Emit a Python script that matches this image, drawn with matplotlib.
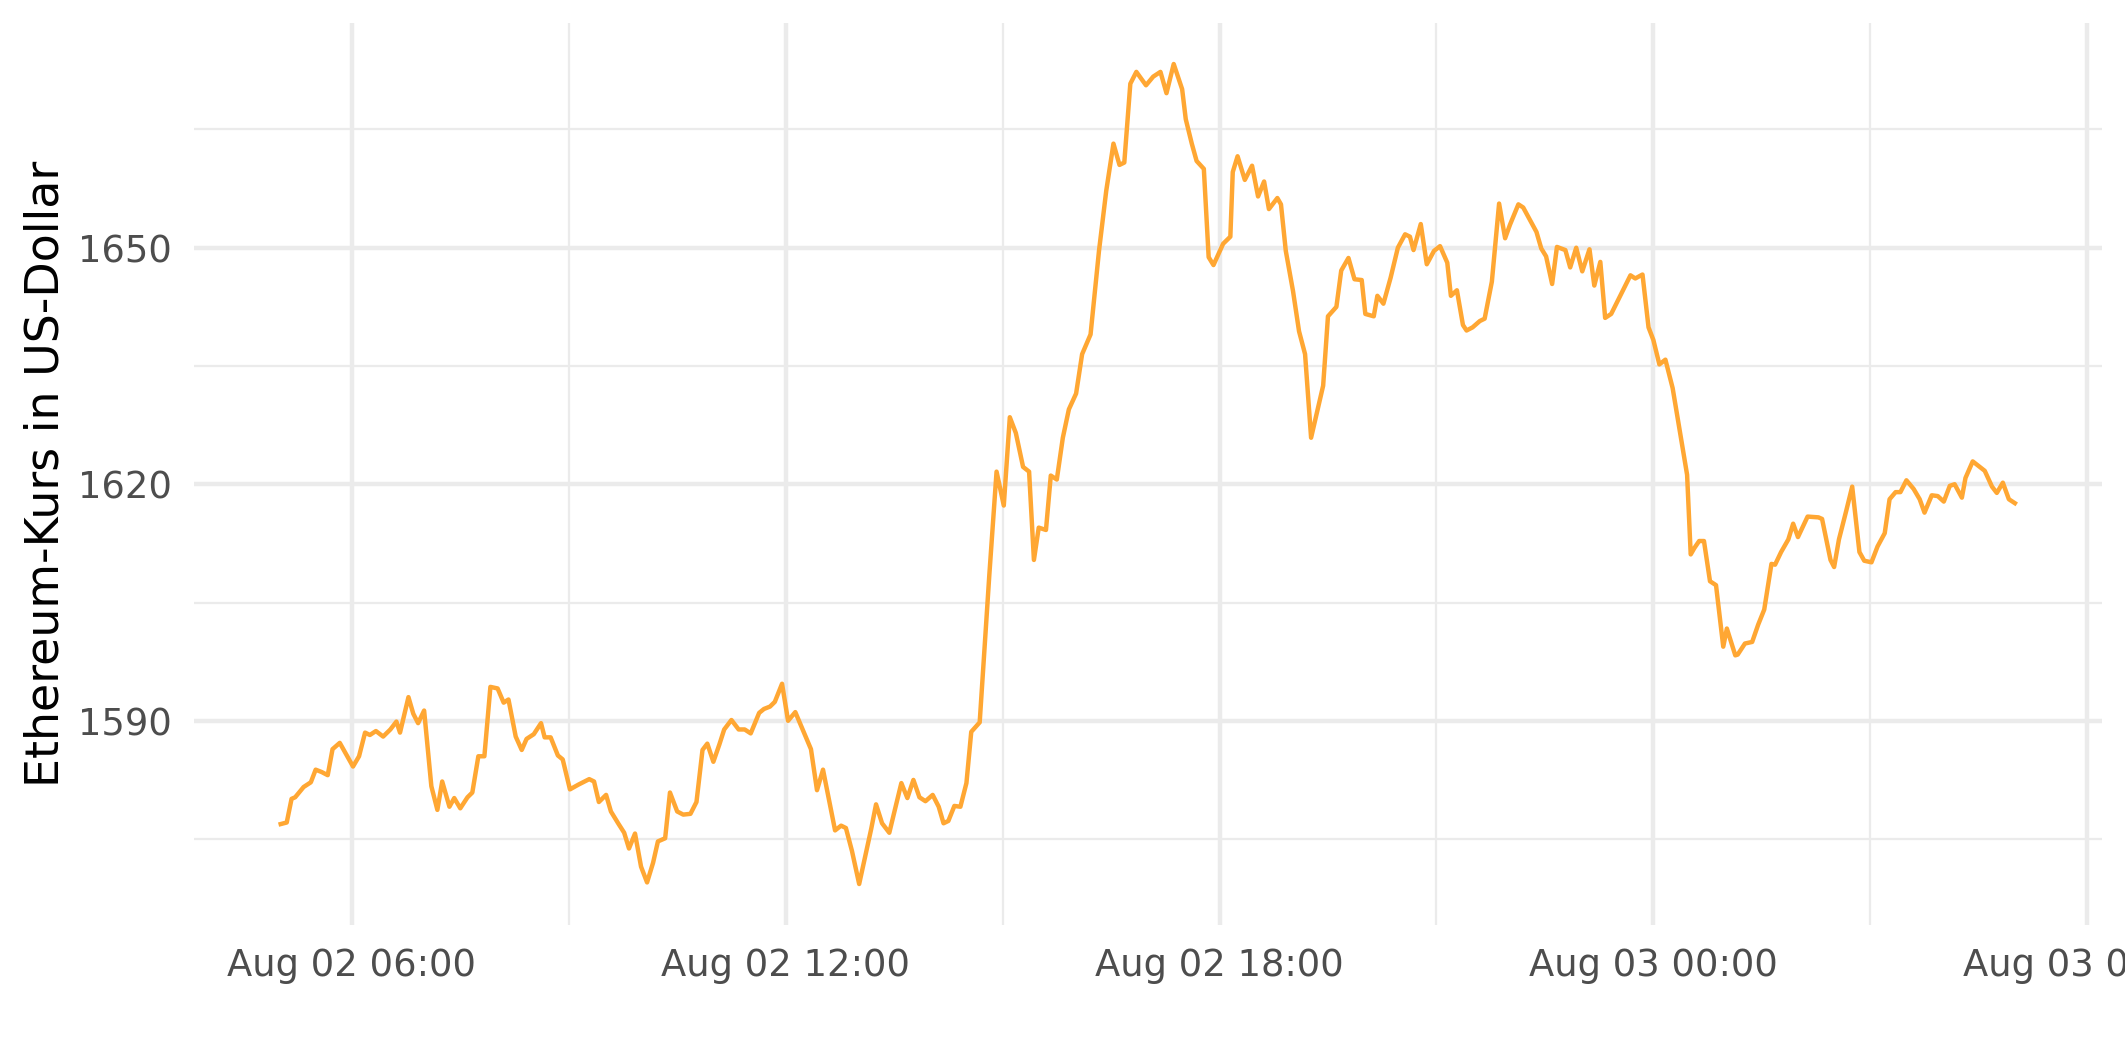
import numpy as np
import pandas as pd
import matplotlib
matplotlib.use("Agg")
import matplotlib.pyplot as plt
import matplotlib.dates as mdates
from matplotlib.ticker import MultipleLocator

# minutes after 2022-08-02 00:00 and the ETH price
minutes = [
    301, 306, 310, 313, 320, 326, 330, 335, 340, 344, 350, 361, 366, 371, 375,
    380, 386, 392, 397, 400, 407, 411, 415, 420, 426, 431, 435, 441, 445, 450,
    456, 460, 465, 470, 475, 481, 486, 490, 496, 501, 505, 511, 517, 520, 525,
    531, 535, 541, 548, 557, 561, 565, 571, 575, 581, 586, 590, 595, 600, 605,
    610, 614, 620, 624, 630, 635, 641, 646, 651, 655, 660, 665, 669, 675, 681,
    686, 691, 698, 702, 707, 711, 717, 722, 728, 741, 746, 751, 761, 766, 770,
    775, 781, 787, 791, 795, 800, 806, 816, 821, 826, 831, 836, 842, 847, 851,
    855, 860, 865, 870, 874, 881, 889, 895, 901, 906, 911, 917, 922, 926, 930,
    936, 940, 945, 950, 955, 961, 966, 973, 980, 986, 992, 997, 1001, 1006, 1011,
    1019, 1025, 1031, 1036, 1042, 1049, 1052, 1057, 1061, 1067, 1071, 1075, 1083,
    1089, 1091, 1095, 1101, 1107, 1112, 1117, 1121, 1128, 1131, 1135, 1141, 1146,
    1151, 1156, 1166, 1170, 1177, 1181, 1187, 1192, 1198, 1201, 1208, 1211, 1216,
    1222, 1228, 1234, 1238, 1241, 1247, 1252, 1258, 1263, 1269, 1272, 1277, 1282,
    1285, 1290, 1296, 1300, 1306, 1312, 1317, 1321, 1328, 1332, 1337, 1343, 1347,
    1351, 1356, 1360, 1367, 1371, 1376, 1381, 1387, 1391, 1396, 1400, 1405, 1421,
    1425, 1431, 1436, 1440, 1445, 1450, 1456, 1461, 1468, 1471, 1474, 1478, 1482,
    1487, 1492, 1498, 1501, 1508, 1510, 1516, 1522, 1527, 1532, 1538, 1541, 1546,
    1552, 1556, 1560, 1568, 1577, 1580, 1587, 1590, 1594, 1600, 1605, 1611, 1615,
    1621, 1626, 1632, 1636, 1641, 1645, 1650, 1656, 1661, 1665, 1671, 1676, 1681,
    1686, 1690, 1696, 1699, 1705, 1710, 1715, 1721, 1725, 1730, 1735, 1740,
]
prices = [
    1576.9, 1577.1, 1580.1, 1580.3, 1581.6, 1582.2, 1583.8, 1583.5, 1583.1, 1586.4,
    1587.2, 1584.2, 1585.5, 1588.5, 1588.2, 1588.7, 1588.0, 1588.9, 1589.9, 1588.5,
    1593.0, 1590.9, 1589.7, 1591.3, 1581.7, 1578.7, 1582.3, 1579.1, 1580.2, 1578.9,
    1580.3, 1580.9, 1585.5, 1585.5, 1594.3, 1594.1, 1592.3, 1592.7, 1588.0, 1586.3,
    1587.7, 1588.3, 1589.7, 1587.9, 1587.9, 1585.6, 1585.1, 1581.3, 1581.9, 1582.6,
    1582.3, 1579.7, 1580.6, 1578.5, 1577.0, 1575.8, 1573.8, 1575.7, 1571.5, 1569.5,
    1572.0, 1574.7, 1575.1, 1580.9, 1578.5, 1578.1, 1578.2, 1579.7, 1586.3, 1587.1,
    1584.8, 1587.0, 1588.9, 1590.1, 1588.9, 1588.9, 1588.4, 1591.0, 1591.5, 1591.8,
    1592.4, 1594.7, 1590.0, 1591.1, 1586.4, 1581.2, 1583.8, 1576.1, 1576.7, 1576.4,
    1573.5, 1569.3, 1573.5, 1576.3, 1579.4, 1577.0, 1575.8, 1582.1, 1580.2, 1582.5,
    1580.3, 1579.8, 1580.6, 1579.1, 1577.0, 1577.3, 1579.2, 1579.1, 1582.1, 1588.6,
    1589.8, 1608.5, 1621.6, 1617.3, 1628.5, 1626.5, 1622.2, 1621.6, 1610.4, 1614.5,
    1614.2, 1621.1, 1620.6, 1625.9, 1629.5, 1631.5, 1636.5, 1639.0, 1649.6, 1657.2,
    1663.2, 1660.5, 1660.8, 1670.8, 1672.3, 1670.6, 1671.7, 1672.3, 1669.6, 1673.3,
    1670.1, 1666.3, 1663.2, 1661.0, 1660.0, 1648.8, 1647.8, 1650.5, 1651.4, 1659.6,
    1661.6, 1658.6, 1660.4, 1656.5, 1658.4, 1654.9, 1656.3, 1655.5, 1649.6, 1644.5,
    1639.4, 1636.5, 1625.9, 1632.5, 1641.3, 1642.5, 1647.1, 1648.7, 1646.0, 1645.9,
    1641.6, 1641.3, 1643.9, 1642.9, 1646.2, 1650.0, 1651.7, 1651.4, 1649.7, 1653.0,
    1647.9, 1649.6, 1650.2, 1648.1, 1643.9, 1644.6, 1640.2, 1639.5, 1639.9, 1640.7,
    1641.0, 1645.7, 1655.6, 1651.2, 1652.9, 1655.5, 1655.1, 1653.7, 1652.0, 1649.9,
    1648.9, 1645.4, 1650.1, 1649.7, 1647.5, 1650.0, 1647.0, 1649.8, 1645.2, 1648.2,
    1641.1, 1641.6, 1646.5, 1646.1, 1646.6, 1639.9, 1638.3, 1635.2, 1635.8, 1632.2,
    1627.6, 1621.2, 1611.1, 1611.9, 1612.8, 1612.8, 1607.7, 1607.2, 1599.4, 1601.7,
    1598.3, 1598.4, 1599.8, 1600.0, 1602.2, 1604.1, 1609.9, 1609.8, 1611.4, 1613.0,
    1615.0, 1613.3, 1615.9, 1615.8, 1615.6, 1610.4, 1609.5, 1613.0, 1616.6, 1619.7,
    1611.4, 1610.3, 1610.1, 1612.1, 1613.8, 1618.1, 1619.0, 1619.0, 1620.5, 1619.4,
    1618.1, 1616.4, 1618.6, 1618.5, 1617.8, 1619.8, 1620.0, 1618.3, 1620.8, 1622.9,
    1622.3, 1621.7, 1619.7, 1618.9, 1620.2, 1618.1, 1617.6,
]

times = pd.Timestamp("2022-08-02") + pd.to_timedelta(minutes, unit="min")
prices = np.array(prices)

grid_col = "#EBEBEB"
text_col = "#4D4D4D"

fig = plt.figure(figsize=(10.625, 5.31), dpi=200)
ax = fig.add_axes([194 / 2125, 1 - 925 / 1062, (2101.6 - 194) / 2125, (925 - 23) / 1062])

ax.plot(times, prices, color="#FFA733", linewidth=1.6, zorder=3)

# ggplot-like 5% expansion
span = times.max() - times.min()
ax.set_xlim(times.min() - span * 0.05, times.max() + span * 0.05)
yr = prices.max() - prices.min()
ax.set_ylim(prices.min() - yr * 0.05, prices.max() + yr * 0.05)

ax.xaxis.set_major_locator(mdates.HourLocator(byhour=[0, 6, 12, 18]))
ax.xaxis.set_minor_locator(mdates.HourLocator(byhour=[3, 9, 15, 21]))
ax.xaxis.set_major_formatter(mdates.DateFormatter("%b %d %H:%M"))
ax.yaxis.set_major_locator(MultipleLocator(30))
ax.yaxis.set_minor_locator(MultipleLocator(15))

ax.grid(which="major", color=grid_col, linewidth=1.6)
ax.grid(which="minor", color=grid_col, linewidth=0.8)
ax.set_axisbelow(True)

for s in ax.spines.values():
    s.set_visible(False)

ax.tick_params(which="both", length=0)
ax.tick_params(axis="x", labelsize=13.3, labelcolor=text_col, pad=8)
ax.tick_params(axis="y", labelsize=13.3, labelcolor=text_col, pad=7.9)

ax.set_ylabel("Ethereum-Kurs in US-Dollar", fontsize=16.5, color="black")
ax.yaxis.set_label_coords(-0.066, 0.5)

fig.savefig("out.png", dpi=200, facecolor="white")
